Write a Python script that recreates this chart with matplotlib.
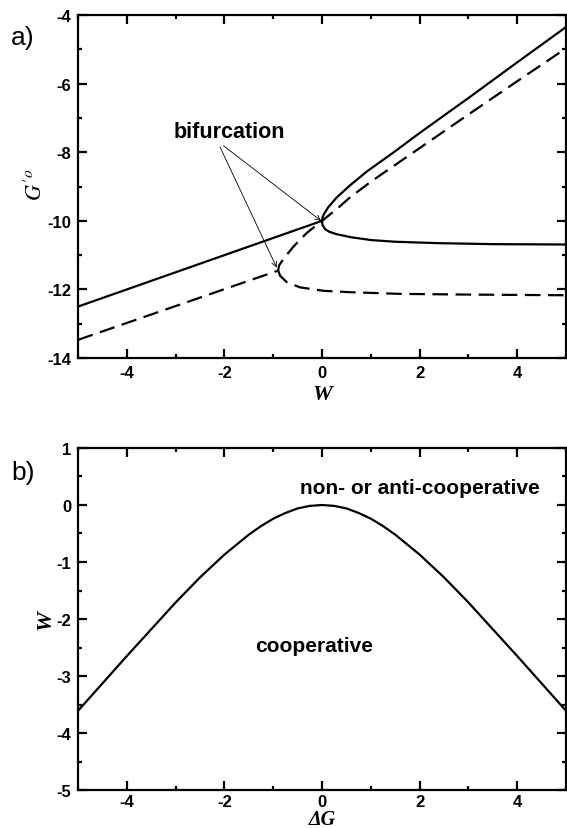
import matplotlib
matplotlib.use("Agg")
import matplotlib.pyplot as plt
import numpy as np

plt.rcParams['font.family'] = ['Liberation Sans', 'DejaVu Sans']
plt.rcParams['mathtext.fontset'] = 'stix'
plt.rcParams['axes.unicode_minus'] = False

# panel a: solid curve (left straight part + upper branch, lower branch)
solid_left_w = [-5.0, 0.0]
solid_left_g = [-12.5, -10.0]
solid_up_w = [0.0, 0.01, 0.04, 0.13, 0.3, 0.57, 0.92, 1.5, 2.0, 3.0, 4.0, 5.0]
solid_up_g = [-10.0, -9.9, -9.8, -9.6, -9.32, -8.97, -8.56, -7.97, -7.44, -6.42, -5.38, -4.35]
solid_low_w = [0.0, 0.01, 0.06, 0.15, 0.3, 0.6, 1.0, 1.5, 2.35, 3.5, 5.0]
solid_low_g = [-10.0, -10.12, -10.24, -10.32, -10.39, -10.48, -10.56, -10.61, -10.65, -10.68, -10.69]

# panel a: dashed curve
dash_left_w = [-5.0, -0.9]
dash_left_g = [-13.47, -11.45]
dash_up_w = [-0.9, -0.88, -0.79, -0.585, -0.31, 0.0, 0.3, 0.57, 1.0, 1.5, 2.0, 3.0, 4.0, 5.0]
dash_up_g = [-11.45, -11.3, -11.11, -10.75, -10.35, -10.0, -9.66, -9.32, -8.86, -8.37, -7.88, -6.9, -5.93, -4.97]
dash_low_w = [-0.9, -0.88, -0.86, -0.72, -0.45, 0.03, 0.57, 1.6, 3.0, 5.0]
dash_low_g = [-11.45, -11.52, -11.6, -11.79, -11.94, -12.04, -12.08, -12.13, -12.15, -12.17]

# panel b: boundary between cooperative / non-cooperative
dg = [-5, -4, -3, -2.5, -2, -1.5, -1.25, -1, -0.75, -0.5, -0.25, 0,
      0.25, 0.5, 0.75, 1, 1.25, 1.5, 2, 2.5, 3, 4, 5]
w_crit = [-3.61, -2.65, -1.71, -1.27, -0.87, -0.52, -0.37, -0.24, -0.14, -0.06, -0.016, 0.0,
          -0.016, -0.06, -0.14, -0.24, -0.37, -0.52, -0.87, -1.27, -1.71, -2.65, -3.61]

LW = 1.6
DASH = (7, 3.4)
serif_bi = dict(family='Liberation Serif', style='italic', weight='bold', size=16)


def style_axes(ax, ymaj, ymin):
    for s in ax.spines.values():
        s.set_linewidth(1.6)
    ax.set_xticks(np.arange(-4, 5, 2))
    ax.set_xticks(np.arange(-5, 5.01, 1), minor=True)
    ax.set_yticks(ymaj)
    ax.set_yticks(ymin, minor=True)
    ax.tick_params(which='both', direction='in', top=True, right=True, width=1.6,
                   labelsize=12, pad=5)
    ax.tick_params(which='major', length=6.5)
    ax.tick_params(which='minor', length=3.2)
    for lab in ax.get_xticklabels() + ax.get_yticklabels():
        lab.set_fontweight('bold')


fig = plt.figure(figsize=(5.67, 8.29), dpi=100)
ax1 = fig.add_axes([0.1376, 0.5669, 0.8607, 0.4138])
ax2 = fig.add_axes([0.1376, 0.0458, 0.8607, 0.4126])

# ---- panel a
ax1.plot(solid_left_w + solid_up_w, solid_left_g + solid_up_g, color='black', lw=LW)
ax1.plot(solid_low_w, solid_low_g, color='black', lw=LW)
ax1.plot(dash_left_w + dash_up_w, dash_left_g + dash_up_g, color='black', lw=LW, dashes=DASH)
ax1.plot(dash_low_w, dash_low_g, color='black', lw=LW, dashes=DASH)

ax1.set_xlim(-5, 5)
ax1.set_ylim(-14, -4)
style_axes(ax1, np.arange(-14, -3.9, 2), np.arange(-13, -4, 2))
ax1.set_xlabel("W", fontdict=serif_bi)
ax1.xaxis.set_label_coords(0.5, -0.075)
ax1.set_ylabel(r"$G^{\prime o}$", fontsize=16)
ax1.yaxis.set_label_coords(-0.063, 0.507)

ax1.text(-1.89, -7.41, "bifurcation", fontsize=15.5, fontweight='bold', ha='center', va='center')
arrow = dict(arrowstyle='->', lw=0.6, color='black', shrinkA=0, shrinkB=0,
             mutation_scale=9)
ax1.annotate("", xy=(-0.02, -10.0), xytext=(-2.02, -7.81), arrowprops=arrow)
ax1.annotate("", xy=(-0.93, -11.36), xytext=(-2.09, -7.85), arrowprops=arrow)

# ---- panel b
ax2.plot(dg, w_crit, color='black', lw=LW)
ax2.set_xlim(-5, 5)
ax2.set_ylim(-5, 1)
style_axes(ax2, np.arange(-5, 1.01, 1), np.arange(-4.5, 1, 0.5))
ax2.tick_params(axis='x', which='both', pad=3)
ax2.set_xlabel("\u0394G", fontdict=dict(serif_bi, size=14.5))
ax2.xaxis.set_label_coords(0.5, -0.056)
ax2.set_ylabel("W", fontdict=serif_bi)
ax2.yaxis.set_label_coords(-0.046, 0.5)
ax2.text(2.0, 0.305, "non- or anti-cooperative", fontsize=15, fontweight='bold',
         ha='center', va='center')
ax2.text(-0.16, -2.47, "cooperative", fontsize=15, fontweight='bold',
         ha='center', va='center')

fig.text(23 / 567, 1 - 38 / 829, "a)", fontsize=19, ha='center', va='center')
fig.text(23 / 567, 1 - 473 / 829, "b)", fontsize=19, ha='center', va='center')

fig.savefig("out.png", dpi=100)
